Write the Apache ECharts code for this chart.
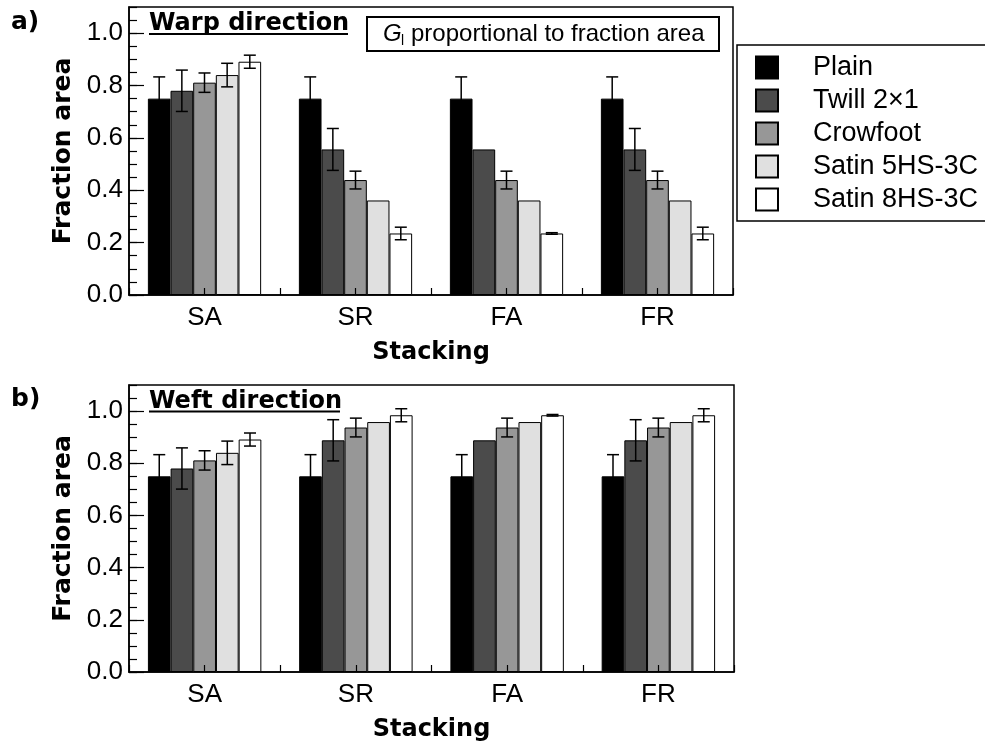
<!DOCTYPE html>
<html>
<head>
<meta charset="utf-8">
<script src="https://cdn.jsdelivr.net/npm/echarts@6/dist/echarts.min.js"></script>
<style>
html,body{margin:0;padding:0;background:#fff;}
#chart{width:985px;height:748px;}
</style>
</head>
<body>
<div id="chart"></div>
<script>
// ---------- data ----------
const categories = ['SA', 'SR', 'FA', 'FR'];
const seriesNames = ['Plain', 'Twill 2×1', 'Crowfoot', 'Satin 5HS-3C', 'Satin 8HS-3C'];
const yTickLabels = ['0.0', '0.2', '0.4', '0.6', '0.8', '1.0'];

// a) Warp direction
const warpPlain       = [0.750, 0.750, 0.750, 0.750];
const warpPlainErr    = [0.083, 0.083, 0.083, 0.083];
const warpTwill       = [0.780, 0.556, 0.556, 0.556];
const warpTwillErr    = [0.079, 0.080, 0.000, 0.080];
const warpCrowfoot    = [0.811, 0.439, 0.439, 0.439];
const warpCrowfootErr = [0.037, 0.034, 0.034, 0.034];
const warpSatin5      = [0.840, 0.361, 0.361, 0.361];
const warpSatin5Err   = [0.045, 0.000, 0.000, 0.000];
const warpSatin8      = [0.891, 0.235, 0.235, 0.235];
const warpSatin8Err   = [0.025, 0.024, 0.003, 0.024];

// b) Weft direction
const weftPlain       = [0.750, 0.750, 0.750, 0.750];
const weftPlainErr    = [0.083, 0.083, 0.083, 0.083];
const weftTwill       = [0.780, 0.888, 0.888, 0.888];
const weftTwillErr    = [0.079, 0.079, 0.000, 0.079];
const weftCrowfoot    = [0.811, 0.937, 0.937, 0.937];
const weftCrowfootErr = [0.037, 0.036, 0.036, 0.036];
const weftSatin5      = [0.840, 0.958, 0.958, 0.958];
const weftSatin5Err   = [0.045, 0.000, 0.000, 0.000];
const weftSatin8      = [0.891, 0.984, 0.984, 0.984];
const weftSatin8Err   = [0.025, 0.025, 0.003, 0.025];

// ---------- styling ----------
const barColors = ['#000000', '#4b4b4b', '#979797', '#e0e0e0', '#ffffff'];
const BAR_FRAC = 0.15;
const REG = 'Liberation Sans, Arial, sans-serif';
const BOLD = 'DejaVu Sans, sans-serif';

const warpVals = [warpPlain, warpTwill, warpCrowfoot, warpSatin5, warpSatin8];
const warpErrs = [warpPlainErr, warpTwillErr, warpCrowfootErr, warpSatin5Err, warpSatin8Err];
const weftVals = [weftPlain, weftTwill, weftCrowfoot, weftSatin5, weftSatin8];
const weftErrs = [weftPlainErr, weftTwillErr, weftCrowfootErr, weftSatin5Err, weftSatin8Err];

const chart = echarts.init(document.getElementById('chart'), null, {renderer: 'canvas'});

const grids = [
  {left: 129, top: 7, width: 604, height: 288},
  {left: 129, top: 385, width: 605, height: 287}
];

function xAxesFor(g) {
  return [
    {
      type: 'category', gridIndex: g, data: categories, position: 'bottom',
      axisLine: {show: true, lineStyle: {color: '#000', width: 1.5}},
      axisTick: {show: false},
      axisLabel: {fontSize: 26, fontFamily: REG, color: '#000', margin: 10},
      name: 'Stacking', nameLocation: 'middle', nameGap: 46,
      nameTextStyle: {fontSize: 24, fontWeight: 'bold', fontFamily: BOLD, color: '#000'}
    },
    {
      type: 'category', gridIndex: g, data: ['', '', '', '', '', '', '', ''], position: 'bottom',
      z: 10, boundaryGap: true,
      axisLine: {show: false},
      axisTick: {show: true, inside: true, length: 7, interval: 0, lineStyle: {color: '#000', width: 1.2}},
      axisLabel: {show: false}
    }
  ];
}
function yAxesFor(g) {
  return [
    {
      type: 'value', gridIndex: g, position: 'left', min: 0, max: 1.1, interval: 0.2,
      axisLine: {show: true, lineStyle: {color: '#000', width: 1.5}},
      axisTick: {show: true, inside: true, length: 15, lineStyle: {color: '#000', width: 1.2}},
      axisLabel: {fontSize: 26, fontFamily: REG, color: '#000', margin: 6, showMaxLabel: false,
        formatter: function (v) { const i = Math.round(v / 0.2); return Math.abs(v - i * 0.2) < 1e-6 ? yTickLabels[i] : ''; }},
      splitLine: {show: false},
      name: 'Fraction area', nameLocation: 'middle', nameGap: 43,
      nameTextStyle: {fontSize: 25, fontWeight: 'bold', fontFamily: BOLD, color: '#000'}
    },
    {
      type: 'value', gridIndex: g, position: 'left', offset: 0, min: 0, max: 1.1, interval: 0.05,
      axisLine: {show: false},
      axisTick: {show: true, inside: true, length: 8, lineStyle: {color: '#000', width: 1.2}},
      axisLabel: {show: false},
      splitLine: {show: false}
    }
  ];
}

function barSeries(g, vals) {
  return vals.map(function (arr, i) {
    return {
      type: 'bar', name: seriesNames[i], xAxisIndex: g * 2, yAxisIndex: g * 2,
      data: arr, barWidth: (BAR_FRAC * 100) + '%', barGap: '0%',
      itemStyle: {color: barColors[i], borderColor: '#000', borderWidth: 1},
      silent: true, z: 2
    };
  });
}
function errSeries(g, vals, errs) {
  return vals.map(function (arr, si) {
    const data = arr.map(function (v, ci) { return [ci, v - errs[si][ci], v + errs[si][ci], errs[si][ci]]; });
    return {
      type: 'custom', xAxisIndex: g * 2, yAxisIndex: g * 2, z: 5, silent: true,
      data: data, encode: {x: 0, y: [1, 2]},
      renderItem: function (params, api) {
        if (api.value(3) <= 0) return;
        const band = api.size([1, 0])[0];
        const bw = band * BAR_FRAC;
        const ci = api.value(0);
        const hi = api.coord([ci, api.value(2)]);
        const lo = api.coord([ci, api.value(1)]);
        const x = hi[0] + (si - 2) * bw;
        const cap = 6;
        const st = {stroke: '#000', lineWidth: 1.5};
        return {type: 'group', children: [
          {type: 'line', shape: {x1: x, y1: hi[1], x2: x, y2: lo[1]}, style: st},
          {type: 'line', shape: {x1: x - cap, y1: hi[1], x2: x + cap, y2: hi[1]}, style: st},
          {type: 'line', shape: {x1: x - cap, y1: lo[1], x2: x + cap, y2: lo[1]}, style: st}
        ]};
      }
    };
  });
}

const option = {
  animation: false,
  backgroundColor: '#fff',
  grid: grids.map(function (g) { return Object.assign({show: true, borderColor: '#000', borderWidth: 1.5, backgroundColor: 'transparent', containLabel: false}, g); }),
  xAxis: xAxesFor(0).concat(xAxesFor(1)),
  yAxis: yAxesFor(0).concat(yAxesFor(1)),
  legend: {
    data: seriesNames, orient: 'vertical', left: 737, top: 45,
    itemWidth: 22, itemHeight: 22, itemGap: 6,
    padding: [9, 20, 8, 18],
    borderColor: '#000', borderWidth: 1.5, backgroundColor: '#fff',
    icon: 'rect', selectedMode: false,
    textStyle: {fontSize: 27, fontFamily: REG, color: '#000', lineHeight: 22, padding: [0, 0, 0, 30]}
  },
  series: [].concat(
    barSeries(0, warpVals), errSeries(0, warpVals, warpErrs),
    barSeries(1, weftVals), errSeries(1, weftVals, weftErrs)
  ),
  graphic: [
    {type: 'text', x: 11, y: 22, style: {text: 'a)', fontSize: 25, fontWeight: 'bold', fontFamily: BOLD, fill: '#000', verticalAlign: 'middle'}},
    {type: 'text', x: 11, y: 399, style: {text: 'b)', fontSize: 25, fontWeight: 'bold', fontFamily: BOLD, fill: '#000', verticalAlign: 'middle'}},
    {type: 'text', x: 149, y: 23.5, style: {text: 'Warp direction', fontSize: 24, fontWeight: 'bold', fontFamily: BOLD, fill: '#000', verticalAlign: 'middle'}},
    {type: 'line', shape: {x1: 149, y1: 34, x2: 348, y2: 34}, style: {stroke: '#000', lineWidth: 2}},
    {type: 'text', x: 149, y: 401.5, style: {text: 'Weft direction', fontSize: 24, fontWeight: 'bold', fontFamily: BOLD, fill: '#000', verticalAlign: 'middle'}},
    {type: 'line', shape: {x1: 149, y1: 411.5, x2: 340, y2: 411.5}, style: {stroke: '#000', lineWidth: 2}},
    {type: 'rect', shape: {x: 367, y: 17, width: 352, height: 34}, style: {fill: '#fff', stroke: '#000', lineWidth: 2}, z: 20},
    {type: 'text', x: 383, y: 34, z: 21, style: {text: 'G', fontSize: 24, fontStyle: 'italic', fontFamily: REG, fill: '#000', verticalAlign: 'middle'}},
    {type: 'text', x: 401, y: 41, z: 21, style: {text: 'l', fontSize: 14, fontFamily: REG, fill: '#000', verticalAlign: 'middle'}},
    {type: 'text', x: 411, y: 34, z: 21, style: {text: 'proportional to fraction area', fontSize: 24, fontFamily: REG, fill: '#000', verticalAlign: 'middle'}}
  ]
};
chart.setOption(option);
</script>
</body>
</html>
